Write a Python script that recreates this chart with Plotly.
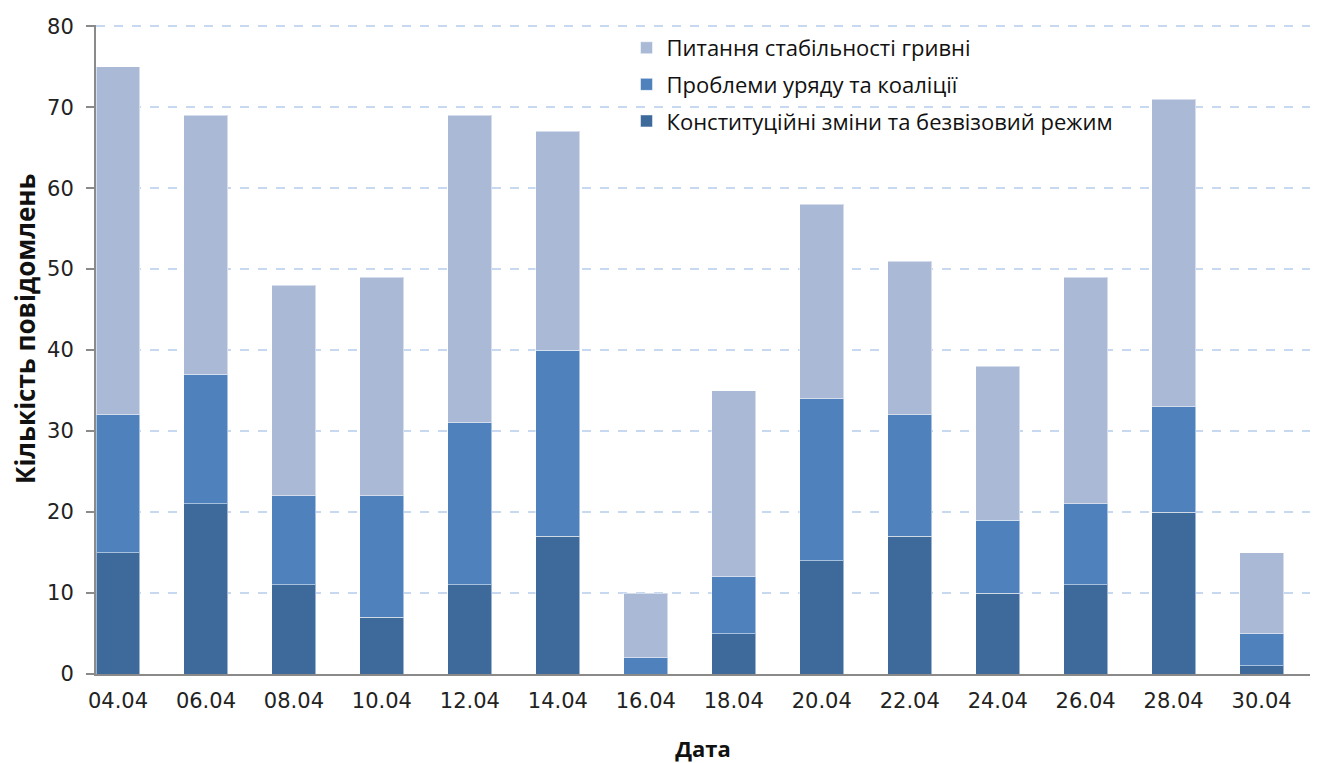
import plotly.graph_objects as go

dates = ['04.04', '06.04', '08.04', '10.04', '12.04', '14.04', '16.04',
         '18.04', '20.04', '22.04', '24.04', '26.04', '28.04', '30.04']

# stacked values per topic
constitution = [15, 21, 11, 7, 11, 17, 0, 5, 14, 17, 10, 11, 20, 1]
government = [17, 16, 11, 15, 20, 23, 2, 7, 20, 15, 9, 10, 13, 4]
hryvnia = [43, 32, 26, 27, 38, 27, 8, 23, 24, 19, 19, 28, 38, 10]

names = ['Конституційні зміни та безвізовий режим',
         'Проблеми уряду та коаліції',
         'Питання стабільності гривні']
colors = ['#3e6a9b', '#4f81bd', '#aab9d6']

x = list(range(len(dates)))

fig = go.Figure()
for i, (vals, name, col) in enumerate(zip([constitution, government, hryvnia], names, colors)):
    fig.add_trace(go.Bar(
        x=x, y=vals, name=name, width=0.5, legendgroup='g%d' % i, legendrank=3 - i,
        marker=dict(color=col, line=dict(color='rgba(255,255,255,0.5)', width=1))
    ))

font = 'Open Sans, Liberation Sans, sans-serif'
tick_font = 'DejaVu Sans, sans-serif'

# page body has an 8px margin, so the figure is sized/offset to compensate
fig.update_layout(
    barmode='stack',
    width=1311, height=755,
    margin=dict(l=88, r=9, t=17, b=89),
    plot_bgcolor='white', paper_bgcolor='white',
    font=dict(family=font, size=22, color='#222'),
    legend=dict(
        x=0.437, y=0.997, xanchor='left', yanchor='top',
        traceorder='grouped', font=dict(size=22, color='#111'),
        bgcolor='rgba(0,0,0,0)', tracegroupgap=5
    ),
    xaxis=dict(
        tickvals=x, ticktext=dates, range=[-0.25, 13.55],
        showline=True, linecolor='#8a8a8a', linewidth=2,
        ticks='', showgrid=False, automargin=False, ticklabelstandoff=7,
        title=dict(text='<b>Дата</b>', font=dict(size=22, color='#111'), standoff=30),
        tickfont=dict(family=tick_font, size=21, color='#222')
    ),
    yaxis=dict(
        range=[0, 80.15], tickvals=list(range(0, 81, 10)),
        showline=True, linecolor='#8a8a8a', linewidth=2,
        ticks='outside', ticklen=8, tickcolor='#8a8a8a', tickwidth=2,
        showgrid=True, gridcolor='#c6d9f0', gridwidth=2, griddash='dash',
        zeroline=False, automargin=False, ticklabelstandoff=8,
        tickfont=dict(family=tick_font, size=21, color='#222')
    ),
    annotations=[dict(
        text='<b>Кількість повідомлень</b>', textangle=-90,
        xref='paper', yref='paper', x=-0.0585, y=0.533,
        xanchor='center', yanchor='middle', showarrow=False,
        font=dict(size=26, color='#111')
    )],
    showlegend=True,
)

fig.write_html('out.html')
